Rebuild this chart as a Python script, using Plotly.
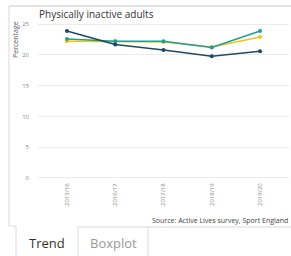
import plotly.graph_objects as go

years = ["2015/16", "2016/17", "2017/18", "2018/19", "2019/20"]
navy_vals = [23.9, 21.7, 20.8, 19.8, 20.6]
teal_vals = [22.6, 22.2, 22.2, 21.2, 23.9]
yellow_vals = [22.2, 22.2, 22.1, 21.3, 22.9]
y_ticks = [0, 5, 10, 15, 20, 25]

W, H = 291, 256
ml, mr, mt, mb = 38, 2, 18, 75
pw, ph = W - ml - mr, H - mt - mb

def px(x):
    return (x - ml) / pw

def py(y):
    return (H - mb - y) / ph

fig = go.Figure()
for vals, col in [(yellow_vals, "#f2c40f"), (teal_vals, "#1d9e98"), (navy_vals, "#1c4a66")]:
    fig.add_trace(go.Scatter(
        x=years, y=vals, mode="lines+markers",
        line=dict(color=col, width=1.5),
        marker=dict(color=col, size=4),
        showlegend=False, hoverinfo="skip"))

line_col = "#d9d9d9"

def seg(x0, y0, x1, y1, col=line_col, w=1):
    return dict(type="line", xref="paper", yref="paper",
                x0=px(x0), x1=px(x1), y0=py(y0), y1=py(y1),
                line=dict(color=col, width=w))

shapes = [
    seg(9, 6, 291, 6, "#e3e3e3", 2),
    seg(9, 6, 9, 226),
    seg(9, 226, 16, 226),
    seg(16, 226, 16, 256),
    seg(78, 227, 291, 227),
    seg(78, 227, 78, 256),
    seg(148, 227, 148, 256),
]

def ann(text, x, y, size, color, xanchor="left", angle=0):
    return dict(text=text, x=px(x), y=py(y), xref="paper", yref="paper",
                xanchor=xanchor, yanchor="middle", showarrow=False, textangle=angle,
                font=dict(size=size, color=color))

annotations = [
    ann("Physically inactive adults", 37, 14, 10, "#333333"),
    ann("Percentage", 15, 40, 7, "#555555", "center", -90),
    ann("Source: Active Lives survey, Sport England", 290, 220, 7, "#444444", "right"),
    ann("Trend", 47, 243, 13, "#333333", "center"),
    ann("Boxplot", 113, 243, 13, "#999999", "center"),
]

fig.update_layout(
    width=W, height=H,
    margin=dict(l=ml, r=mr, t=mt, b=mb, pad=0),
    paper_bgcolor="white", plot_bgcolor="white",
    font=dict(family="Open Sans"),
    shapes=shapes, annotations=annotations,
    xaxis=dict(type="category", range=[-0.6, 4.6], showgrid=False, zeroline=False,
               showline=False, tickangle=-90, tickfont=dict(size=6, color="#888888"),
               ticks="", ticklen=0),
    yaxis=dict(range=[-0.5, 26], tickvals=y_ticks, showgrid=True, gridcolor="#ebebeb",
               gridwidth=1, zeroline=False, showline=False,
               tickfont=dict(size=6, color="#888888"), ticks="", ticklabelstandoff=8),
)

fig.write_html("out.html", config={"displayModeBar": False},
               post_script="document.body.style.margin='0px';")
